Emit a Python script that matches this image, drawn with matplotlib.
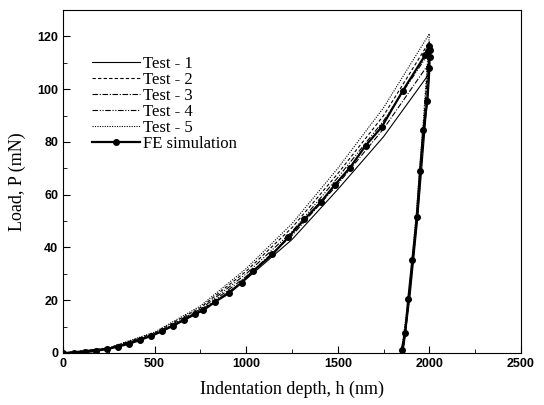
import matplotlib
matplotlib.use('Agg')
import matplotlib.pyplot as plt
from matplotlib.ticker import MultipleLocator

# Loading branches of the five tests (depth in nm, load in mN)
h_load = [0, 250, 500, 750, 1000, 1250, 1500, 1750, 2000]
test1_load = [0, 1.6, 6.8, 15.5, 28.0, 43.0, 62.0, 82.0, 106.0]
test2_load = [0, 1.9, 7.6, 17.2, 31.0, 47.5, 68.0, 90.0, 118.0]
test3_load = [0, 1.7, 7.0, 16.0, 29.0, 44.5, 64.0, 85.0, 110.0]
test4_load = [0, 1.8, 7.3, 16.6, 30.0, 46.0, 66.5, 88.0, 114.0]
test5_load = [0, 2.0, 7.9, 17.8, 32.0, 49.0, 70.0, 93.0, 121.0]

# Unloading branches of the five tests
test1_unh = [2000, 1970, 1935, 1895, 1862, 1850]
test1_unp = [106.0, 80.0, 50.0, 22.0, 3.0, 0]
test2_unh = [2000, 1968, 1932, 1890, 1855, 1842]
test2_unp = [118.0, 86.0, 53.0, 22.0, 3.0, 0]
test3_unh = [2000, 1969, 1934, 1893, 1860, 1848]
test3_unp = [110.0, 82.0, 51.0, 22.0, 3.0, 0]
test4_unh = [2000, 1968, 1933, 1891, 1857, 1845]
test4_unp = [114.0, 84.0, 52.0, 22.0, 3.0, 0]
test5_unh = [2000, 1967, 1930, 1888, 1852, 1838]
test5_unp = [121.0, 88.0, 54.0, 22.0, 3.0, 0]

# FE simulation, loading then unloading
fe_h = [0, 60, 120, 180, 240, 300, 360, 420, 480, 540, 600, 660, 720, 766, 830,
        908, 975, 1035, 1143, 1230, 1317, 1407, 1485, 1567, 1652, 1740, 1854,
        1976, 1995, 2000, 2002, 2001, 2000, 1989, 1967, 1949, 1931, 1907, 1885,
        1867, 1849]
fe_p = [0, 0.1, 0.3, 0.8, 1.5, 2.4, 3.5, 4.9, 6.5, 8.3, 10.3, 12.5, 14.9, 16.2,
        19.4, 22.8, 26.7, 30.9, 37.4, 43.9, 50.6, 57.2, 63.8, 70.3, 78.6, 85.7,
        99.3, 112.8, 114.5, 116.2, 115.0, 112.0, 108.0, 95.5, 84.5, 69.0, 51.4,
        35.1, 20.6, 7.5, 1.1]

fig = plt.figure(figsize=(5.44, 4.05), dpi=100)
ax = fig.add_axes([0.1158, 0.1284, 0.8419, 0.8469])

lw = 0.8
ax.plot(h_load + test1_unh, test1_load + test1_unp, color='black', lw=lw, ls='-', label='Test - 1')
ax.plot(h_load + test2_unh, test2_load + test2_unp, color='black', lw=lw, ls=(0, (3, 2)), label='Test - 2')
ax.plot(h_load + test3_unh, test3_load + test3_unp, color='black', lw=lw, ls=(0, (5, 1.5, 1, 1.5)), label='Test - 3')
ax.plot(h_load + test4_unh, test4_load + test4_unp, color='black', lw=lw, ls=(0, (5, 1.5, 1, 1.5, 1, 1.5)), label='Test - 4')
ax.plot(h_load + test5_unh, test5_load + test5_unp, color='black', lw=lw, ls=(0, (1, 1.2)), label='Test - 5')
ax.plot(fe_h, fe_p, color='black', lw=1.6, marker='o', ms=4, label='FE simulation')

ax.set_xlim(0, 2500)
ax.set_ylim(0, 130)
ax.xaxis.set_major_locator(MultipleLocator(500))
ax.xaxis.set_minor_locator(MultipleLocator(250))
ax.yaxis.set_major_locator(MultipleLocator(20))
ax.yaxis.set_minor_locator(MultipleLocator(10))
ax.tick_params(which='both', direction='in', top=False, right=False)
ax.tick_params(which='major', length=5)
ax.tick_params(which='minor', length=3)
for lab in ax.get_xticklabels() + ax.get_yticklabels():
    lab.set_fontfamily('Liberation Sans')
    lab.set_fontweight('bold')
    lab.set_fontsize(9)

ax.set_xlabel('Indentation depth, h (nm)', fontfamily='Liberation Serif', fontsize=13, labelpad=8)
ax.set_ylabel('Load, P (mN)', fontfamily='Liberation Serif', fontsize=13, labelpad=8)

ax.legend(loc='upper left', bbox_to_anchor=(0.03, 0.91), frameon=False,
          prop={'family': 'Liberation Serif', 'size': 12}, handlelength=2.9,
          labelspacing=0.0, handletextpad=0.2)

fig.savefig('out.png', dpi=100)
